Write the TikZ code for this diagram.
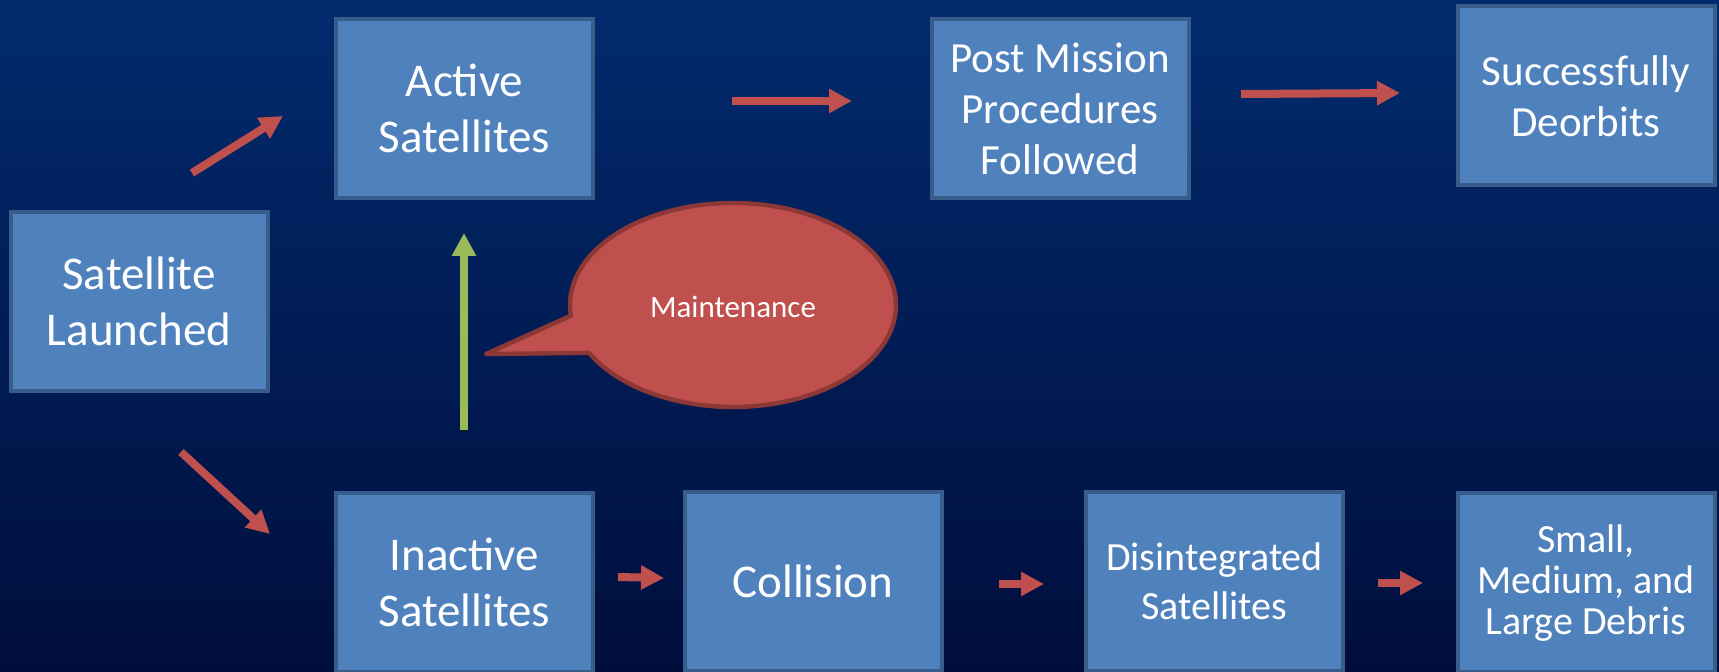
\documentclass[tikz,border=0pt]{standalone}
\usepackage{fontspec}
\setmainfont{Carlito}
\usetikzlibrary{arrows.meta}
\definecolor{bgtop}{RGB}{2,43,110}
\definecolor{bgbot}{RGB}{0,14,60}
\definecolor{boxfill}{RGB}{79,129,189}
\definecolor{boxline}{RGB}{56,93,138}
\definecolor{arrred}{RGB}{192,80,77}
\definecolor{arrgreen}{RGB}{155,187,89}
\definecolor{callline}{RGB}{140,56,54}
\tikzset{
  stagebox/.style={draw=boxline, line width=2pt, fill=boxfill, text=white,
    minimum width=128.5pt, minimum height=89.5pt, align=center, inner sep=0pt},
  bigtxt/.style={font=\fontsize{23.5}{28}\selectfont},
  midtxt/.style={font=\fontsize{21.5}{25.5}\selectfont},
  redarrow/.style={draw=arrred, line width=4pt, -{Triangle[length=11.5pt,width=11.5pt]}},
  greenarrow/.style={draw=arrgreen, line width=4pt, -{Triangle[length=11.5pt,width=11.5pt]}},
}
\begin{document}
\begin{tikzpicture}[x=0.5pt,y=-0.5pt]
\useasboundingbox (0,0) rectangle (1719,672);
\shade[top color=bgtop, bottom color=bgbot] (0,0) rectangle (1719,672);

\node[stagebox,bigtxt] (launched) at (139,301.5) {Satellite\\Launched};
\node[stagebox,bigtxt] (active) at (464.5,108.5) {Active\\Satellites};
\node[stagebox,midtxt] (post) at (1060,108.5) {Post Mission\\Procedures\\Followed};
\node[stagebox,midtxt] (success) at (1586,96) {Successfully\\Deorbits};
\node[stagebox,bigtxt] (inactive) at (464.5,582.5) {Inactive\\Satellites};
\node[stagebox,bigtxt] (collision) at (813,581.5) {Collision};
\node[stagebox,font=\fontsize{20}{24.5}\selectfont] (disint) at (1214.5,581.5) {Disintegrated\\Satellites};
\node[stagebox,font=\fontsize{20}{20.5}\selectfont] (debris) at (1586,583) {Small,\\Medium, and\\Large Debris};

% callout
\filldraw[fill=arrred, draw=callline, line width=2.2pt, line join=round]
  (486,354) -- plot[domain=174:512, samples=120, smooth] ({733+163*cos(\x)},{305+102*sin(\x)}) -- cycle;
\node[text=white, font=\fontsize{15.5}{18}\selectfont] (maint) at (733,307) {Maintenance};

% arrow end points
\coordinate (la1) at (192,173); \coordinate (la2) at (283,116);
\coordinate (li1) at (181,452); \coordinate (li2) at (270,534);
\coordinate (ap1) at (732,101); \coordinate (ap2) at (852,101);
\coordinate (ps1) at (1241,94); \coordinate (ps2) at (1400,93);
\coordinate (ic1) at (618,577); \coordinate (ic2) at (664,578);
\coordinate (cd1) at (999,584); \coordinate (cd2) at (1044,584);
\coordinate (dd1) at (1378,583); \coordinate (dd2) at (1423,583);
\coordinate (g1) at (464,430); \coordinate (g2) at (464,233);

\draw[redarrow] (la1) -- (la2);
\draw[redarrow] (li1) -- (li2);
\draw[redarrow] (ap1) -- (ap2);
\draw[redarrow] (ps1) -- (ps2);
\draw[redarrow] (ic1) -- (ic2);
\draw[redarrow] (cd1) -- (cd2);
\draw[redarrow] (dd1) -- (dd2);
\draw[greenarrow] (g1) -- (g2);
\end{tikzpicture}
\end{document}
